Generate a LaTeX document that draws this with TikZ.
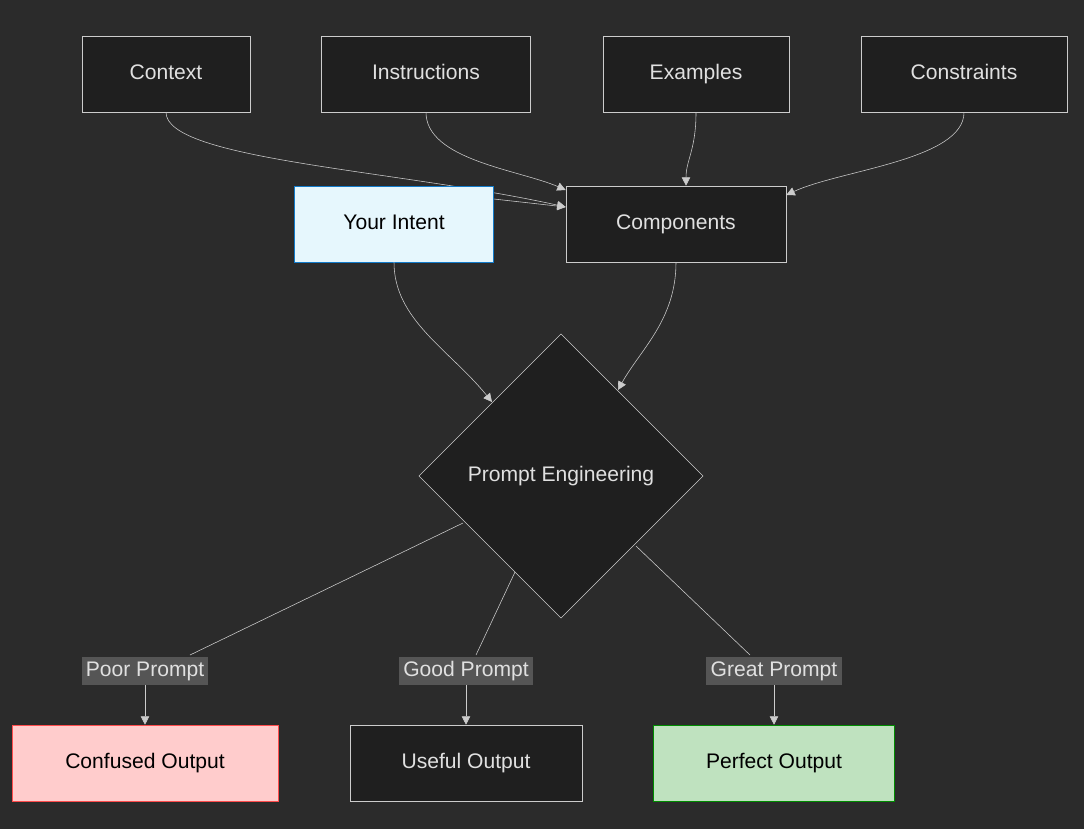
\documentclass[tikz,border=0pt]{standalone}
\usepackage{fontspec}
\setmainfont{Liberation Sans}
\usetikzlibrary{shapes.geometric,arrows.meta}
\definecolor{bgc}{HTML}{2B2B2B}
\definecolor{boxc}{HTML}{1F1F1F}
\definecolor{linec}{HTML}{CCCCCC}
\definecolor{txtc}{HTML}{E0E0E0}
\definecolor{lblc}{HTML}{555555}
\begin{document}
\begin{tikzpicture}[x=0.025cm,y=-0.025cm,font=\fontsize{15}{17}\selectfont]
\tikzset{
  box/.style={rectangle,draw=linec,fill=boxc,text=txtc,minimum height=1.9cm,inner sep=0pt,text height=11pt,text depth=3pt},
  dia/.style={diamond,draw=linec,fill=boxc,text=txtc,minimum width=7.1cm,minimum height=7.1cm,inner sep=0pt},
  lbl/.style={fill=lblc,text=txtc,inner sep=3pt,text height=11pt,text depth=3pt},
  link/.style={draw=linec,-{Triangle[length=6pt,width=6pt]}},
  plain/.style={draw=linec}
}
\fill[bgc] (0,0) rectangle (1084,829);
\node[box,minimum width=4.2cm] (context) at (166,74) {Context};
\node[box,minimum width=5.225cm] (instr) at (426,74) {Instructions};
\node[box,minimum width=4.65cm] (examples) at (696,74) {Examples};
\node[box,minimum width=5.15cm] (constr) at (964,74) {Constraints};
\node[box,minimum width=5.5cm] (comp) at (676,224) {Components};
\node[dia] (pe) at (561,476) {Prompt Engineering};
% links into components
\draw[link] (context.south) .. controls (166,160) and (400,170) .. (comp.west |- 0,207);
\draw[link] (instr.south) .. controls (426,160) and (520,170) .. (comp.west |- 0,190);
\draw[link] (examples.south) .. controls (696,150) and (686,160) .. (comp.north -| 686,0);
\draw[link] (constr.south) .. controls (964,160) and (840,170) .. (comp.east |- 0,195);
\node[box,minimum width=4.975cm,fill=cyan!10,draw=cyan!60!blue,text=black] (intent) at (394,224) {Your Intent};
\draw[link] (intent.east |- 0,199) -- (comp.west |- 0,207);
\draw[link] (intent.south) .. controls (394,320) and (450,350) .. (492,402);
\draw[link] (comp.south) .. controls (676,320) and (640,350) .. (618,390);
% outputs
\node[lbl] (poor) at (145,671) {Poor Prompt};
\node[lbl] (good) at (466,671) {Good Prompt};
\node[lbl] (great) at (774,671) {Great Prompt};
\node[box,minimum width=6.65cm,fill=red!20,draw=red!70,text=black] (confused) at (145,763) {Confused Output};
\node[box,minimum width=5.8cm] (useful) at (466,763) {Useful Output};
\node[box,minimum width=6.025cm,fill=green!55!black!25,draw=green!55!black,text=black] (perfect) at (774,763) {Perfect Output};
\draw[plain] (463,523) -- (190,655);
\draw[plain] (515,572) -- (476,655);
\draw[plain] (636,546) -- (750,655);
\draw[link] (poor) -- (confused);
\draw[link] (good) -- (useful);
\draw[link] (great) -- (perfect);
\end{tikzpicture}
\end{document}
